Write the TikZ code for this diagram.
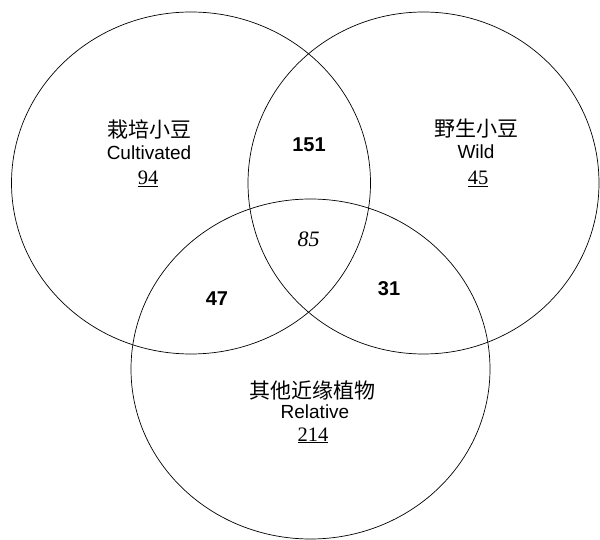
\documentclass[tikz,border=0pt]{standalone}
\usepackage{fontspec}
\setmainfont{Liberation Serif}
\setsansfont{Liberation Sans}
\newfontfamily\cjk{Noto Sans CJK SC}
\begin{document}
\begin{tikzpicture}[x=1pt,y=-1pt,
  ring/.style={draw=black,line width=0.7pt},
  cjklab/.style={anchor=base,inner sep=0pt,font=\cjk\fontsize{21}{21}\selectfont},
  enlab/.style={anchor=base,inner sep=0pt,font=\sffamily\fontsize{19}{19}\selectfont},
  numlab/.style={anchor=base,inner sep=0pt,font=\rmfamily\fontsize{20.5}{20.5}\selectfont},
  boldnum/.style={anchor=base,inner sep=0pt,font=\sffamily\bfseries\fontsize{20}{20}\selectfont},
  itnum/.style={anchor=base,inner sep=0pt,font=\rmfamily\itshape\fontsize{22}{22}\selectfont}]
\fill[white] (0,0) rectangle (600,540);
\useasboundingbox (0,0) rectangle (600,540);
\coordinate (cA) at (191,183);
\coordinate (cB) at (423.5,183);
\coordinate (cC) at (310.5,369);
\draw[ring] (cA) ellipse [x radius=179.5, y radius=171];
\draw[ring] (cB) ellipse [x radius=175.5, y radius=171];
\draw[ring] (cC) ellipse [x radius=179.5, y radius=170];
% Cultivated
\node[cjklab] (tA) at (149,138) {栽培小豆};
\node[enlab] (eA) at (149,160) {Cultivated};
\node[numlab] (nA) at (148,185) {\underline{94}};
% Wild
\node[cjklab] (tB) at (476,137) {野生小豆};
\node[enlab] (eB) at (476,159) {Wild};
\node[numlab] (nB) at (478,185) {\underline{45}};
% Relative
\node[cjklab] (tC) at (312,398) {其他近缘植物};
\node[enlab] (eC) at (315,418.4) {Relative};
\node[numlab] (nC) at (313,441) {\underline{214}};
% intersections
\node[boldnum] (nAB) at (309,152) {151};
\node[itnum] (nABC) at (308.5,247) {85};
\node[boldnum] (nAC) at (217,305.5) {47};
\node[boldnum] (nBC) at (389,295) {31};
\end{tikzpicture}
\end{document}
